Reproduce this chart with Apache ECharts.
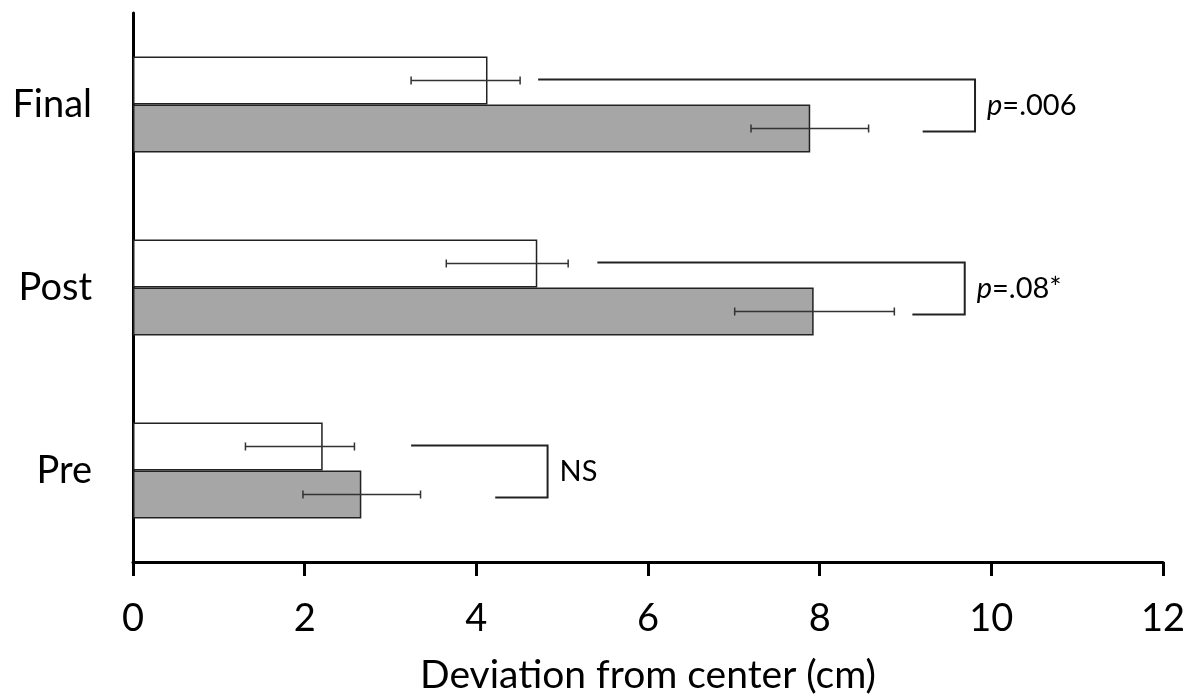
<!DOCTYPE html>
<html>
<head>
<meta charset="utf-8">
<script src="https://cdn.jsdelivr.net/npm/echarts@6/dist/echarts.min.js"></script>
<style>
html,body{margin:0;padding:0;background:#fff;}
#chart{width:1190px;height:700px;}
</style>
</head>
<body>
<div id="chart"></div>
<script>
// ---- data ----
var categories = ['Pre', 'Post', 'Final'];
var whiteValues = [2.21, 4.71, 4.13];
var grayValues = [2.66, 7.93, 7.89];
var whiteErrLow = [1.31, 3.65, 3.24];
var whiteErrHigh = [2.58, 5.07, 4.51];
var grayErrLow = [1.98, 7.01, 7.20];
var grayErrHigh = [3.35, 8.87, 8.57];
var bracketTopStart = [3.24, 5.41, 4.72];
var bracketBottomStart = [4.22, 9.08, 9.20];
var bracketRight = [4.83, 9.69, 9.81];
var bracketLabels = ['NS', 'p=.08*', 'p=.006'];
var xTicks = [0, 2, 4, 6, 8, 10, 12];
var xTitle = 'Deviation from center (cm)';

var FONT = 'Lato, "Open Sans", sans-serif';
var BAR_W = 48;

var chart = echarts.init(document.getElementById('chart'));

function errData(low, high) {
  return categories.map(function (c, i) { return [low[i], high[i], i]; });
}
function makeErr(offset) {
  return function (params, api) {
    var p1 = api.coord([api.value(0), api.value(2)]);
    var p2 = api.coord([api.value(1), api.value(2)]);
    var y = p1[1] + offset;
    var cap = 4;
    var st = { stroke: '#333', lineWidth: 1.5 };
    return {
      type: 'group',
      children: [
        { type: 'line', shape: { x1: p1[0], y1: y, x2: p2[0], y2: y }, style: st },
        { type: 'line', shape: { x1: p1[0], y1: y - cap, x2: p1[0], y2: y + cap }, style: st },
        { type: 'line', shape: { x1: p2[0], y1: y - cap, x2: p2[0], y2: y + cap }, style: st }
      ]
    };
  };
}

var bracketData = categories.map(function (c, i) {
  return [bracketTopStart[i], bracketBottomStart[i], bracketRight[i], i];
});

function labelText(s) {
  if (s.charAt(0) === 'p') return '{i|p}{n|' + s.slice(1) + '}';
  return '{n|' + s + '}';
}

option = {
  animation: false,
  backgroundColor: '#fff',
  grid: { left: 133, right: 27, top: 13, bottom: 135, containLabel: false },
  xAxis: {
    type: 'value',
    min: 0, max: 12, interval: 2,
    splitLine: { show: false },
    axisLine: { show: true, lineStyle: { color: '#000', width: 3 } },
    axisTick: { show: true, inside: false, length: 14, lineStyle: { color: '#000', width: 3 } },
    axisLabel: {
      color: '#000', fontFamily: FONT, fontSize: 38, margin: 38,
      formatter: function (v) { return xTicks.indexOf(v) >= 0 ? String(v) : ''; }
    },
    name: xTitle,
    nameLocation: 'middle',
    nameGap: 94,
    nameTextStyle: { color: '#000', fontFamily: FONT, fontSize: 39 }
  },
  yAxis: {
    type: 'category',
    data: categories,
    axisLine: { show: true, lineStyle: { color: '#000', width: 3 } },
    axisTick: { show: false },
    axisLabel: { color: '#000', fontFamily: FONT, fontSize: 38, margin: 41 },
    splitLine: { show: false }
  },
  series: [
    {
      name: 'white', type: 'bar', data: whiteValues, barWidth: BAR_W, barGap: '0%',
      itemStyle: { color: '#ffffff', borderColor: '#222', borderWidth: 1.5 }
    },
    {
      name: 'gray', type: 'bar', data: grayValues, barWidth: BAR_W, barGap: '0%',
      itemStyle: { color: '#a6a6a6', borderColor: '#222', borderWidth: 1.5 }
    },
    {
      name: 'whiteErr', type: 'custom', data: errData(whiteErrLow, whiteErrHigh),
      renderItem: makeErr(-BAR_W / 2), z: 10
    },
    {
      name: 'grayErr', type: 'custom', data: errData(grayErrLow, grayErrHigh),
      renderItem: makeErr(BAR_W / 2), z: 10
    },
    {
      name: 'brackets', type: 'custom', data: bracketData, z: 10,
      renderItem: function (params, api) {
        var cat = api.value(3);
        var pt = api.coord([api.value(0), cat]);
        var pb = api.coord([api.value(1), cat]);
        var pr = api.coord([api.value(2), cat]);
        var yT = pt[1] - 25, yB = pt[1] + 27;
        var st = { stroke: '#222', lineWidth: 2, fill: null };
        return {
          type: 'group',
          children: [
            { type: 'polyline', shape: { points: [[pt[0], yT], [pr[0], yT], [pr[0], yB], [pb[0], yB]] }, style: st },
            {
              type: 'text',
              style: {
                x: pr[0] + 12, y: pt[1] + 1,
                text: labelText(bracketLabels[params.dataIndex]),
                verticalAlign: 'middle', align: 'left',
                fill: '#000',
                rich: {
                  i: { fontStyle: 'italic', fontSize: 29, fontFamily: FONT, fill: '#000' },
                  n: { fontSize: 29, fontFamily: FONT, fill: '#000' }
                }
              }
            }
          ]
        };
      }
    }
  ]
};
chart.setOption(option);
</script>
</body>
</html>
